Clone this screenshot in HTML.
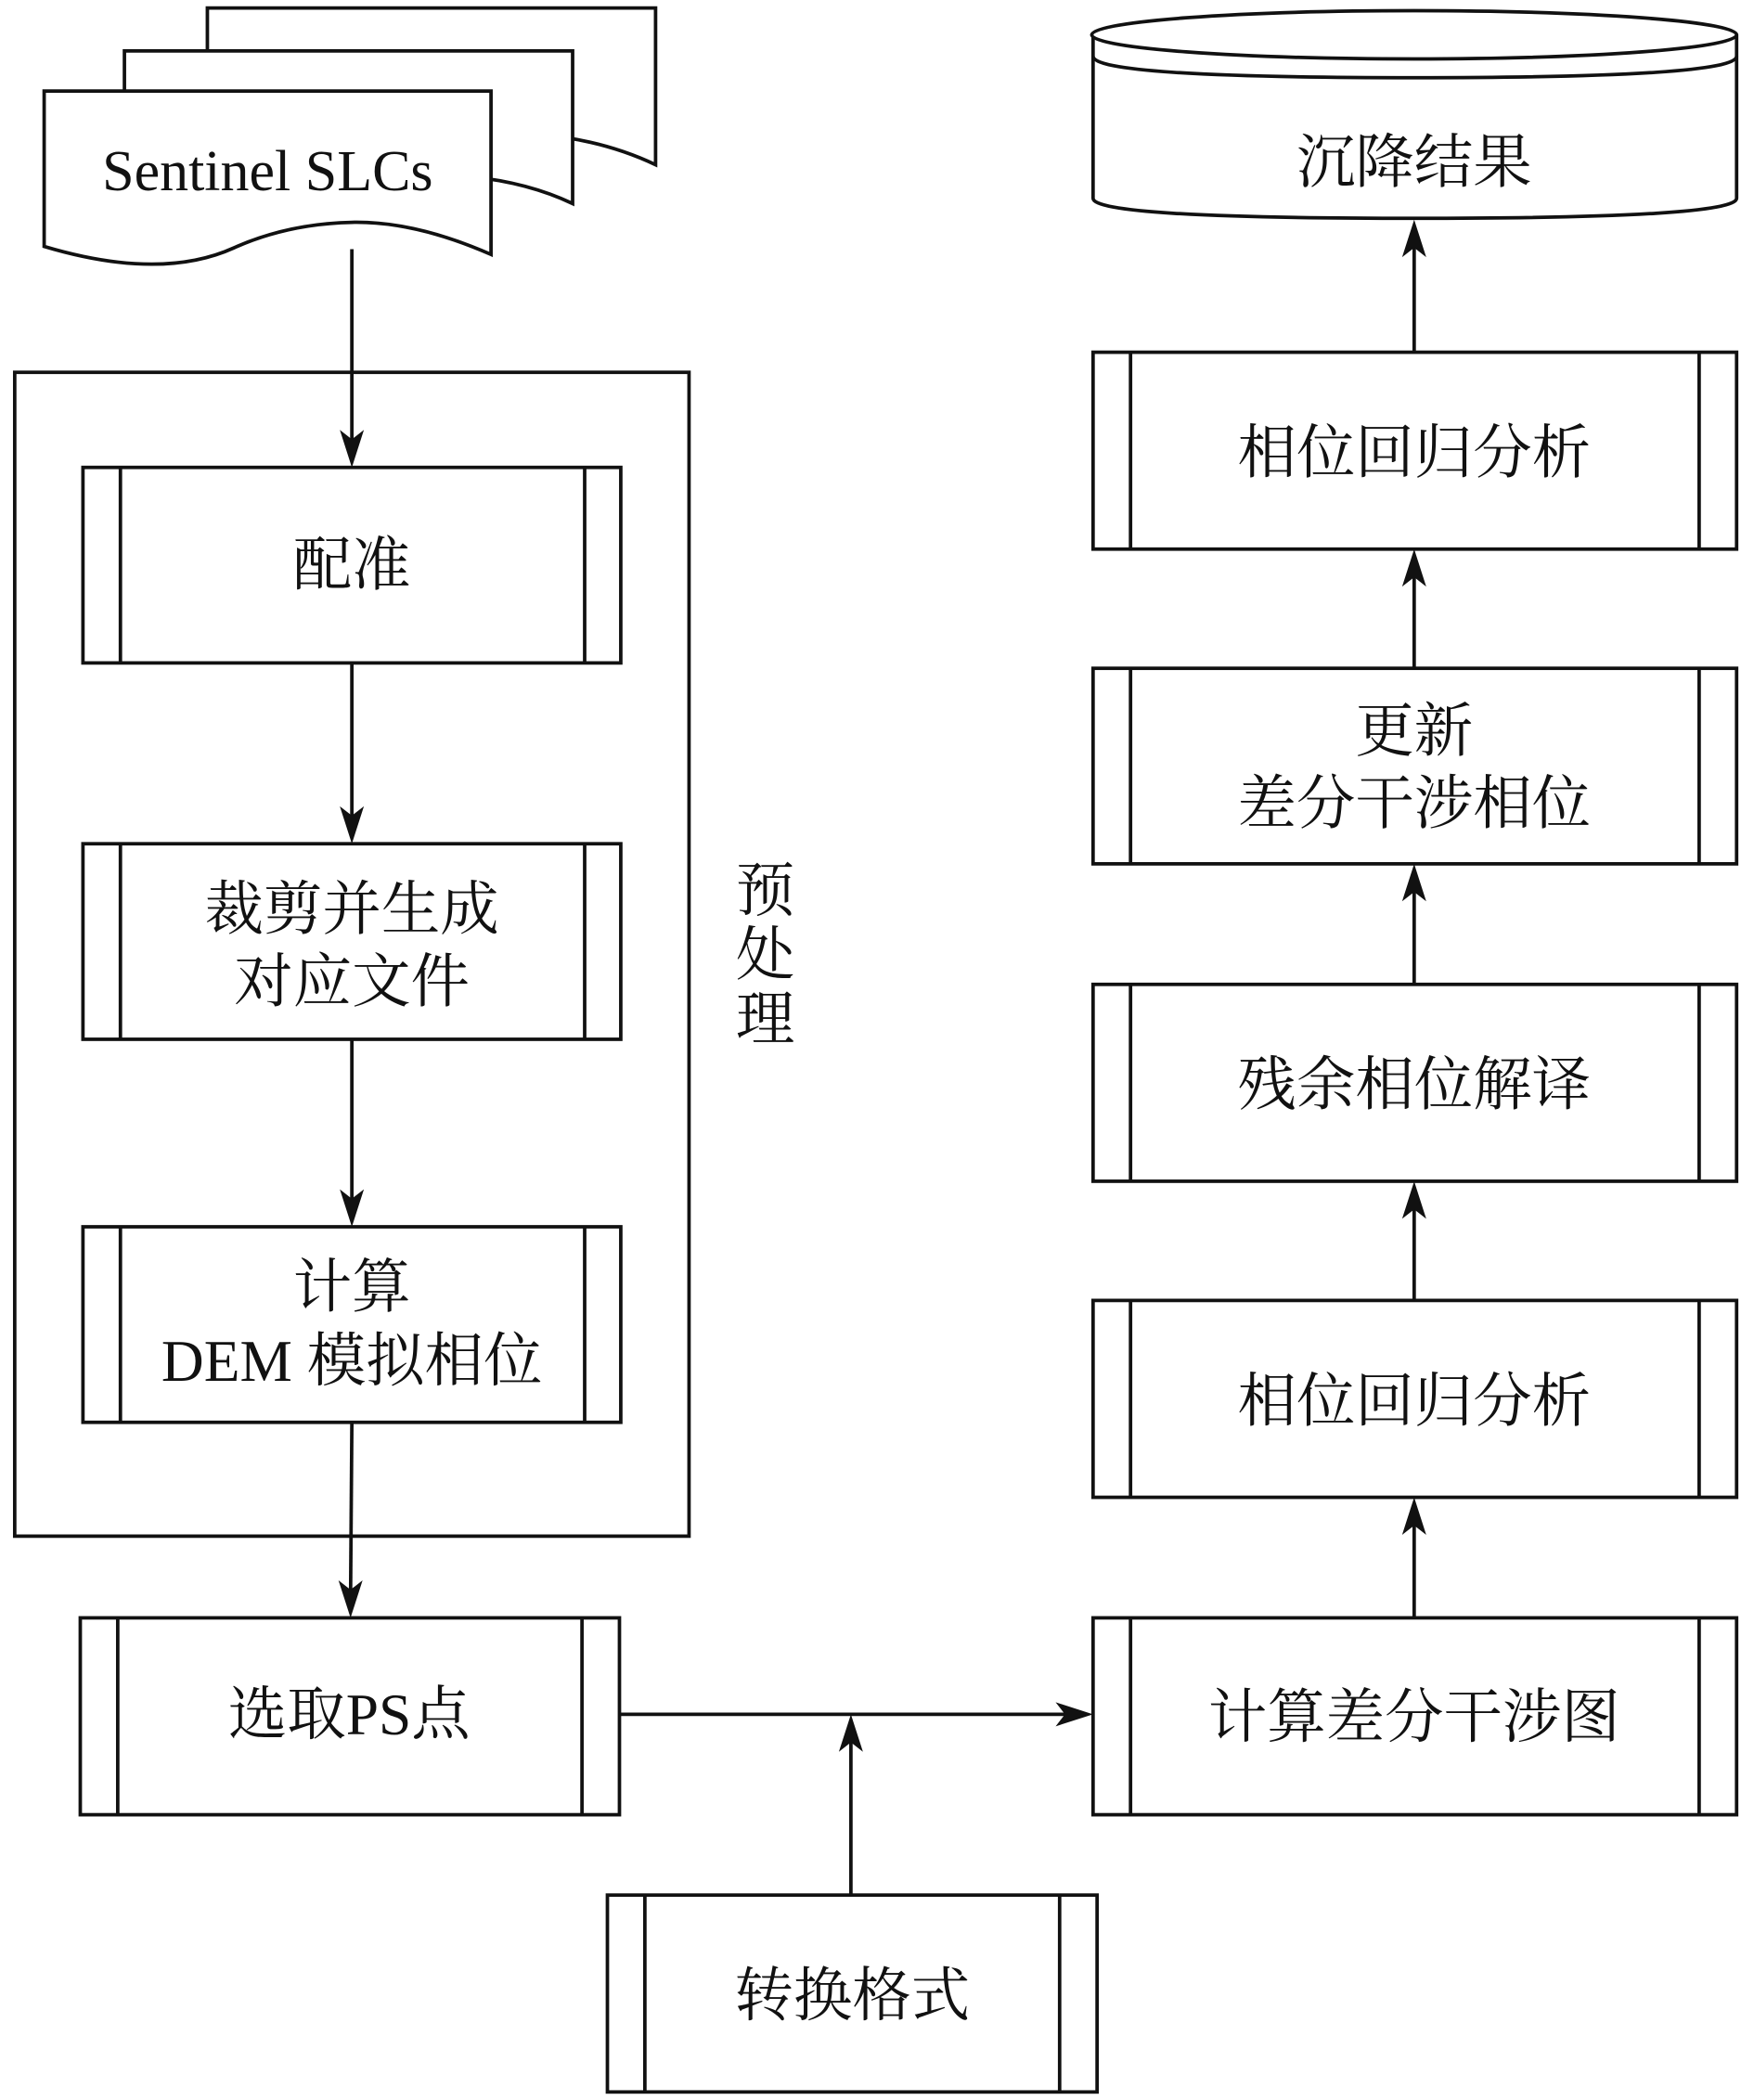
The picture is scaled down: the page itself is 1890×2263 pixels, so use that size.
<!DOCTYPE html>
<html><head><meta charset="utf-8"><style>
html,body{margin:0;padding:0;background:#fff;}
svg{display:block;}
text{font-family:"Liberation Serif","Noto Serif CJK SC",serif;font-size:44px;fill:#111;text-anchor:middle;}
</style></head><body>
<svg width="1890" height="2263" viewBox="0 0 1311 1568" preserveAspectRatio="none" xmlns="http://www.w3.org/2000/svg">
<g fill="#fff" stroke="#111" stroke-width="2.6">
<path d="M155,6 H490 V123 Q450,104 400,100 H155 Z"/>
<path d="M93,38 H428 V152 Q390,134 340,131 H93 Z"/>
<path d="M33,68 H367 V190 Q310,165 263,166 Q215,167 175,185 Q120,210 33,184 Z"/>
<rect x="11" y="278" width="504" height="869" fill="none"/>
<rect x="62" y="349" width="402" height="146"/><line x1="90" y1="349" x2="90" y2="495"/><line x1="437" y1="349" x2="437" y2="495"/>
<rect x="62" y="630" width="402" height="146"/><line x1="90" y1="630" x2="90" y2="776"/><line x1="437" y1="630" x2="437" y2="776"/>
<rect x="62" y="916" width="402" height="146"/><line x1="90" y1="916" x2="90" y2="1062"/><line x1="437" y1="916" x2="437" y2="1062"/>
<rect x="60" y="1208" width="403" height="147"/><line x1="88" y1="1208" x2="88" y2="1355"/><line x1="435" y1="1208" x2="435" y2="1355"/>
<rect x="454" y="1415" width="366" height="147"/><line x1="482" y1="1415" x2="482" y2="1562"/><line x1="792" y1="1415" x2="792" y2="1562"/>
<rect x="817" y="1208" width="481" height="147"/><line x1="845" y1="1208" x2="845" y2="1355"/><line x1="1270" y1="1208" x2="1270" y2="1355"/>
<rect x="817" y="971" width="481" height="147"/><line x1="845" y1="971" x2="845" y2="1118"/><line x1="1270" y1="971" x2="1270" y2="1118"/>
<rect x="817" y="735" width="481" height="147"/><line x1="845" y1="735" x2="845" y2="882"/><line x1="1270" y1="735" x2="1270" y2="882"/>
<rect x="817" y="499" width="481" height="146"/><line x1="845" y1="499" x2="845" y2="645"/><line x1="1270" y1="499" x2="1270" y2="645"/>
<rect x="817" y="263" width="481" height="147"/><line x1="845" y1="263" x2="845" y2="410"/><line x1="1270" y1="263" x2="1270" y2="410"/>
<path d="M817,26 V148 Q817,163 1057,163 Q1298,163 1298,148 V26"/>
<ellipse cx="1057" cy="26" rx="241" ry="18"/>
<path d="M817,42 Q817,58 1057,58 Q1298,58 1298,42" fill="none"/>
<g fill="none">
<line x1="263" y1="186" x2="263" y2="335"/>
<line x1="263" y1="495" x2="263" y2="615"/>
<line x1="263" y1="776" x2="263" y2="900"/>
<line x1="263" y1="1062" x2="262" y2="1195"/>
<line x1="463" y1="1280" x2="800" y2="1280"/>
<line x1="636" y1="1415" x2="636" y2="1295"/>
<line x1="1057" y1="1208" x2="1057" y2="1132"/>
<line x1="1057" y1="971" x2="1057" y2="896"/>
<line x1="1057" y1="735" x2="1057" y2="660"/>
<line x1="1057" y1="499" x2="1057" y2="424"/>
<line x1="1057" y1="263" x2="1057" y2="178"/>
</g>
</g>
<g fill="#111" stroke="none">
<polygon points="263,349 254,321 263,328 272,321"/>
<polygon points="263,630 254,602 263,609 272,602"/>
<polygon points="263,916 254,888 263,895 272,888"/>
<polygon points="262,1208 253,1180 262,1187 271,1180"/>
<polygon points="817,1280 789,1271 796,1280 789,1289"/>
<polygon points="636,1280 627,1308 636,1301 645,1308"/>
<polygon points="1057,1118 1048,1146 1057,1139 1066,1146"/>
<polygon points="1057,882 1048,910 1057,903 1066,910"/>
<polygon points="1057,645 1048,673 1057,666 1066,673"/>
<polygon points="1057,410 1048,438 1057,431 1066,438"/>
<polygon points="1057,164 1048,192 1057,185 1066,192"/>
</g>
<text x="200" y="142" style="font-size:43px">Sentinel SLCs</text>
<text x="263" y="437">配准</text>
<text x="263" y="694">裁剪并生成</text>
<text x="263" y="748">对应文件</text>
<text x="263" y="976">计算</text>
<text x="263" y="1031">DEM 模拟相位</text>
<text x="261" y="1295">选取PS点</text>
<text x="637" y="1505">转换格式</text>
<text x="572" y="680">预</text>
<text x="572" y="728">处</text>
<text x="572" y="776">理</text>
<text x="1057" y="136">沉降结果</text>
<text x="1057" y="353">相位回归分析</text>
<text x="1057" y="561">更新</text>
<text x="1057" y="615">差分干涉相位</text>
<text x="1057" y="825">残余相位解译</text>
<text x="1057" y="1061">相位回归分析</text>
<text x="1057" y="1297">计算差分干涉图</text>
</svg>
</body></html>
